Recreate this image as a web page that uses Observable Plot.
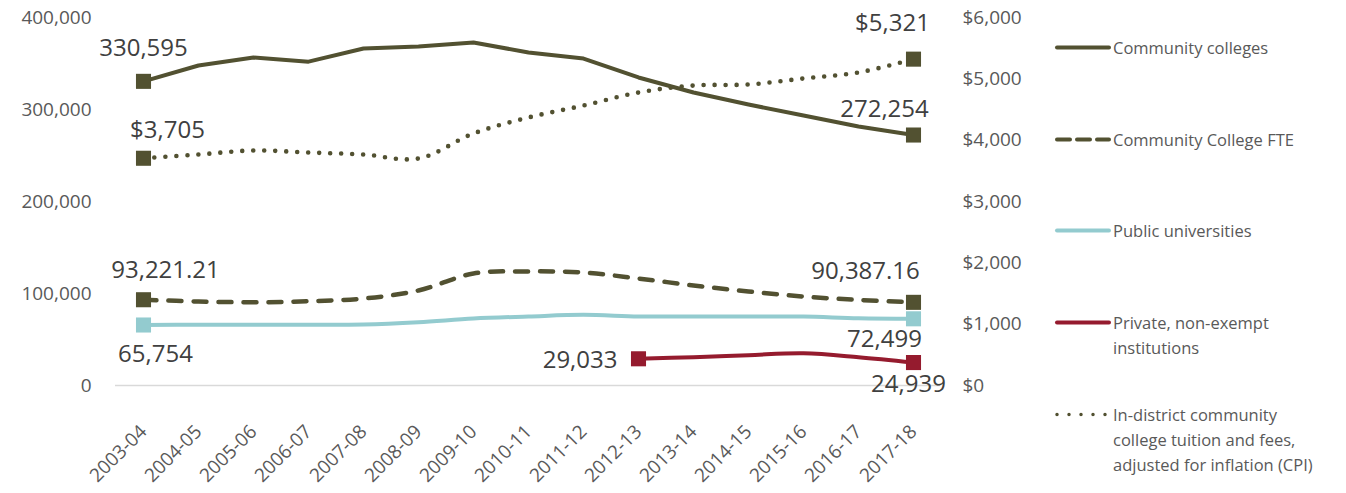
<!DOCTYPE html>
<html><head><meta charset="utf-8">
<script src="https://cdn.jsdelivr.net/npm/d3@7"></script>
<script src="https://cdn.jsdelivr.net/npm/@observablehq/plot@0.6"></script>
<style>
body{margin:0;background:#fff;font-family:"Open Sans",sans-serif;}
#wrap{position:relative;width:1346px;height:493px;overflow:hidden;background:#fff}
#chart{position:absolute;left:0;top:0}
.leg{position:absolute;left:1053px;display:flex;align-items:flex-start;font-size:16.5px;color:#595959;line-height:25px}
.leg svg{flex:none;display:block}
.leg div{margin-left:2px;white-space:nowrap}
</style></head><body>
<div id="wrap"><div id="chart"></div></div>
<script>
const years = ["2003-04","2004-05","2005-06","2006-07","2007-08","2008-09","2009-10","2010-11","2011-12","2012-13","2013-14","2014-15","2015-16","2016-17","2017-18"];
const communityColleges = [330595, 347800, 356500, 352000, 366300, 368500, 372800, 362000, 355400, 334800, 318500, 305400, 293500, 281500, 272254];
const communityCollegeFTE = [93221.21, 91300, 90500, 91600, 94500, 103300, 121700, 124000, 122800, 116300, 108700, 102200, 96700, 93000, 90387.16];
const publicUniversities = [65754, 66000, 66000, 66000, 66300, 68800, 72800, 75000, 76800, 75000, 75000, 75000, 75000, 73000, 72499];
const privateNonExempt = [null, null, null, null, null, null, null, null, null, 29033, 30800, 33000, 35000, 30800, 24939];
const tuitionCPI = [3705, 3766, 3832, 3799, 3766, 3701, 4109, 4370, 4565, 4777, 4891, 4908, 5006, 5104, 5321];
const leftTicks = [0, 100000, 200000, 300000, 400000];
const rightTicks = [0, 1000, 2000, 3000, 4000, 5000, 6000];
const seriesNames = ["Community colleges", "Community College FTE", "Public universities", "Private, non-exempt institutions", "In-district community college tuition and fees, adjusted for inflation (CPI)"];

const OLIVE = "#525131", TEAL = "#93CBCF", RED = "#951B2E", LABEL = "#404040";
const k = leftTicks[leftTicks.length - 1] / rightTicks[rightTicks.length - 1];
const fmtInt = d3.format(",");
const fmt2 = d3.format(",.2f");

const toRows = (arr, scale = 1) => years.map((x, i) => ({x, y: arr[i] == null ? null : arr[i] * scale})).filter(d => d.y != null);
const rowsCC = toRows(communityColleges);
const rowsFTE = toRows(communityCollegeFTE);
const rowsPU = toRows(publicUniversities);
const rowsPR = toRows(privateNonExempt);
const rowsTU = toRows(tuitionCPI, k);
const ends = rows => [rows[0], rows[rows.length - 1]];

const label = (row, text, opts) => Plot.text([row], {x: "x", y: "y", text: () => text, fill: LABEL, fontSize: 24, ...opts});
const firstI = privateNonExempt.findIndex(v => v != null);
const lastI = years.length - 1;

const chart = Plot.plot({
  width: 1050, height: 493,
  marginLeft: 115, marginRight: 110, marginTop: 17, marginBottom: 108,
  style: {fontFamily: "'Open Sans', sans-serif", color: "#595959", background: "transparent"},
  x: {type: "point", domain: years, padding: 0.5},
  y: {domain: [0, leftTicks[leftTicks.length - 1]]},
  marks: [
    Plot.ruleY([0], {stroke: "#d9d9d9", strokeWidth: 1.5}),
    Plot.axisY({anchor: "left", ticks: leftTicks, tickSize: 0, tickPadding: 24, tickFormat: fmtInt, fontSize: 19, label: null}),
    Plot.axisY({anchor: "right", ticks: rightTicks.map(v => v * k), tickSize: 0, tickPadding: 22, tickFormat: v => "$" + fmtInt(Math.round(v / k)), fontSize: 19, label: null}),
    Plot.axisX({tickRotate: -45, tickSize: 0, tickPadding: 43, fontSize: 19, label: null}),
    Plot.line(rowsTU, {x: "x", y: "y", stroke: OLIVE, strokeWidth: 4.6, strokeDasharray: "0,11", strokeLinecap: "round", curve: "catmull-rom"}),
    Plot.line(rowsCC, {x: "x", y: "y", stroke: OLIVE, strokeWidth: 4, curve: "linear"}),
    Plot.line(rowsFTE, {x: "x", y: "y", stroke: OLIVE, strokeWidth: 4.5, strokeDasharray: "13,12", strokeLinecap: "round", curve: "catmull-rom"}),
    Plot.line(rowsPU, {x: "x", y: "y", stroke: TEAL, strokeWidth: 4, curve: "catmull-rom"}),
    Plot.line(rowsPR, {x: "x", y: "y", stroke: RED, strokeWidth: 4, curve: "catmull-rom"}),
    Plot.dot(ends(rowsTU), {x: "x", y: "y", symbol: "square", r: 8.5, fill: OLIVE}),
    Plot.dot(ends(rowsCC), {x: "x", y: "y", symbol: "square", r: 8.5, fill: OLIVE}),
    Plot.dot(ends(rowsFTE), {x: "x", y: "y", symbol: "square", r: 8.5, fill: OLIVE}),
    Plot.dot(ends(rowsPU), {x: "x", y: "y", symbol: "square", r: 8.5, fill: TEAL}),
    Plot.dot(ends(rowsPR), {x: "x", y: "y", symbol: "square", r: 8.5, fill: RED}),
    label(rowsCC[0], fmtInt(communityColleges[0]), {dx: 0, dy: -33}),
    label(rowsCC[rowsCC.length - 1], fmtInt(communityColleges[lastI]), {dx: -29, dy: -26}),
    label(rowsTU[0], "$" + fmtInt(tuitionCPI[0]), {dx: 24, dy: -28}),
    label(rowsTU[rowsTU.length - 1], "$" + fmtInt(tuitionCPI[lastI]), {dx: -21, dy: -36}),
    label(rowsFTE[0], fmt2(communityCollegeFTE[0]), {dx: 22, dy: -29}),
    label(rowsFTE[rowsFTE.length - 1], fmt2(communityCollegeFTE[lastI]), {dx: -48, dy: -31}),
    label(rowsPU[0], fmtInt(publicUniversities[0]), {dx: 12, dy: 29}),
    label(rowsPU[rowsPU.length - 1], fmtInt(publicUniversities[lastI]), {dx: -29, dy: 21}),
    label(rowsPR[0], fmtInt(privateNonExempt[firstI]), {dx: -21, dy: 2, textAnchor: "end"}),
    label(rowsPR[rowsPR.length - 1], fmtInt(privateNonExempt[lastI]), {dx: -5, dy: 22})
  ]
});
document.getElementById("chart").appendChild(chart);

// Legend
const wrap = document.getElementById("wrap");
const legendSpecs = [
  {color: OLIVE, dash: null, top: 47, lines: [seriesNames[0]]},
  {color: OLIVE, dash: "13,7", top: 139, lines: [seriesNames[1]]},
  {color: TEAL, dash: null, top: 230, lines: [seriesNames[2]]},
  {color: RED, dash: null, top: 322, lines: ["Private, non-exempt", "institutions"]},
  {color: OLIVE, dash: "0,12", top: 414, lines: ["In-district community", "college tuition and fees,", "adjusted for inflation (CPI)"]}
];
legendSpecs.forEach(s => {
  const item = document.createElement("div");
  item.className = "leg";
  item.style.top = (s.top - 12.5) + "px";
  const svg = d3.create("svg").attr("width", 58).attr("height", 25);
  const dotted = s.dash === "0,12";
  const ln = svg.append("line").attr("x1", 4).attr("x2", dotted ? 53 : 56).attr("y1", 12.5).attr("y2", 12.5)
    .attr("stroke", s.color).attr("stroke-width", dotted ? 3.5 : 4).attr("stroke-linecap", "round");
  if (s.dash) ln.attr("stroke-dasharray", s.dash);
  item.appendChild(svg.node());
  const txt = document.createElement("div");
  txt.innerHTML = s.lines.join("<br>");
  item.appendChild(txt);
  wrap.appendChild(item);
});
</script>
</body></html>
